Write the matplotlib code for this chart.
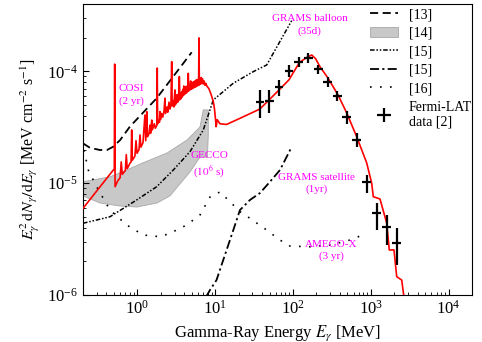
import matplotlib as mpl
import matplotlib.pyplot as plt
from matplotlib.lines import Line2D
from matplotlib.patches import Patch

# dashed [13] (COSI 2 yr)
cosi_E = [0.2, 0.246, 0.33, 0.407, 0.49, 0.60, 0.80, 1.77, 4.99]
cosi_F = [2.27e-5, 2.07e-5, 1.98e-5, 1.98e-5, 2.12e-5, 2.43e-5, 3.2e-5, 5.75e-5, 1.48e-4]

# shaded band [14] (GECCO 1e6 s)
gecco_up_E = [0.2, 0.445, 0.693, 1.18, 2.40, 4.34, 6.38, 7.03]
gecco_up_F = [1.03e-5, 1.14e-5, 1.29e-5, 1.52e-5, 1.86e-5, 2.43e-5, 3.18e-5, 4.52e-5]
gecco_lo_E = [8.15, 8.15, 7.95, 6.38, 4.74, 3.52, 2.62, 1.79, 0.99, 0.597, 0.33, 0.2]
gecco_lo_F = [4.52e-5, 2.7e-5, 1.71e-5, 1.71e-5, 1.26e-5, 9.84e-6, 7.69e-6, 6.65e-6,
              6.12e-6, 6.25e-6, 6.65e-6, 7.69e-6]

# dash-dot-dot [15] (GRAMS balloon 35 d)
balloon_E = [0.2, 0.445, 0.98, 1.77, 2.89, 4.74, 7.03, 9.46, 17.1, 30.9, 45.9, 96.2]
balloon_F = [4.38e-6, 5.01e-6, 7.08e-6, 9.3e-6, 1.31e-5, 1.91e-5, 2.99e-5, 5.55e-5,
             7.83e-5, 9.94e-5, 1.14e-4, 2.84e-4]

# dash-dot [15] (GRAMS satellite 1 yr)
satellite_E = [7.62, 8.58, 10.4, 12.7, 17.1, 20.8, 28.0, 37.7, 50.6, 68.0, 96.2]
satellite_F = [9.6e-7, 1.11e-6, 1.36e-6, 2.06e-6, 3.81e-6, 5.75e-6, 7.08e-6, 8.17e-6,
               1.03e-5, 1.31e-5, 2.11e-5]

# dotted [16] (AMEGO-X 3 yr)
amego_E = [0.206, 0.234, 0.30, 0.445, 0.728, 1.19, 1.95, 2.62, 4.30, 6.38, 8.58, 11.5,
           14.7, 20.8, 28.0, 45.9, 68.0, 91.5, 165, 299, 541, 886]
amego_F = [1.98e-5, 1.31e-5, 9.25e-6, 5.75e-6, 4.23e-6, 3.44e-6, 3.32e-6, 3.56e-6,
           4.23e-6, 5.2e-6, 7.53e-6, 8.34e-6, 7.08e-6, 5.56e-6, 4.85e-6, 3.81e-6,
           3.1e-6, 2.74e-6, 2.7e-6, 2.8e-6, 3.1e-6, 3.56e-6]

# red spectrum with lines, (energy MeV, flux)
red_points = [
    (0.20, 5.96e-6), (0.49, 1.31e-5), (0.505, 1.33e-5), (0.511, 1.16e-4), (0.517, 9.3e-6),
    (0.56, 1.05e-5), (0.60, 1.12e-5), (0.62, 1.55e-5), (0.64, 1.2e-5), (0.70, 1.3e-5),
    (0.72, 1.8e-5), (0.74, 1.35e-5), (0.80, 1.5e-5), (0.83, 1.55e-5), (0.845, 2.99e-5),
    (0.86, 1.6e-5), (0.93, 1.75e-5), (0.96, 2.4e-5), (0.99, 1.85e-5), (1.05, 2.0e-5),
    (1.08, 2.7e-5), (1.11, 2.1e-5), (1.18, 2.3e-5), (1.25, 4.07e-5), (1.28, 2.4e-5),
    (1.32, 4.36e-5), (1.35, 2.6e-5), (1.42, 2.8e-5), (1.45, 3.3e-5), (1.48, 2.8e-5),
    (1.53, 3.67e-5), (1.56, 3.0e-5), (1.65, 3.4e-5), (1.70, 3.1e-5), (1.78, 3.3e-5),
    (1.80, 1.07e-4), (1.82, 3.4e-5), (1.88, 3.7e-5), (1.92, 3.5e-5), (1.95, 4.36e-5),
    (1.98, 3.7e-5), (2.05, 4.2e-5), (2.12, 3.9e-5), (2.20, 4.4e-5), (2.26, 5.75e-5),
    (2.30, 4.2e-5), (2.40, 4.8e-5), (2.45, 4.3e-5), (2.55, 5.3e-5), (2.62, 4.6e-5),
    (2.70, 5.0e-5), (2.76, 1.22e-4), (2.80, 4.9e-5), (2.90, 5.4e-5), (2.95, 4.8e-5),
    (2.98, 5.6e-5), (3.04, 6.82e-5), (3.08, 5.0e-5), (3.12, 5.8e-5), (3.18, 5.2e-5),
    (3.25, 6.2e-5), (3.30, 5.3e-5), (3.35, 6.0e-5), (3.40, 5.5e-5), (3.46, 8.97e-5),
    (3.52, 5.6e-5), (3.58, 6.4e-5), (3.65, 5.7e-5), (3.72, 6.6e-5), (3.78, 5.9e-5),
    (3.85, 6.9e-5), (3.90, 6.1e-5), (3.95, 7.4e-5), (4.00, 6.2e-5), (4.06, 7.0e-5),
    (4.12, 6.3e-5), (4.20, 7.3e-5), (4.28, 6.4e-5), (4.36, 7.4e-5), (4.44, 6.6e-5),
    (4.51, 9.6e-5), (4.58, 6.7e-5), (4.65, 7.6e-5), (4.72, 6.8e-5), (4.84, 8.2e-5),
    (4.92, 6.9e-5), (5.00, 7.8e-5), (5.08, 7.0e-5), (5.18, 8.0e-5), (5.28, 7.1e-5),
    (5.38, 8.1e-5), (5.48, 7.2e-5), (5.58, 8.3e-5), (5.68, 7.3e-5), (5.80, 8.4e-5),
    (5.92, 7.4e-5), (6.05, 8.5e-5), (6.12, 7.5e-5), (6.19, 1.99e-4), (6.26, 7.6e-5),
    (6.38, 8.6e-5), (6.50, 7.7e-5), (6.62, 8.8e-5), (6.70, 7.8e-5), (6.85, 8.6e-5),
    (7.00, 7.7e-5), (7.20, 8.2e-5), (7.40, 7.5e-5), (7.60, 7.8e-5), (7.80, 7.4e-5),
    (8.30, 7.0e-5), (8.80, 6.3e-5), (9.46, 5.36e-5), (9.80, 4.6e-5), (10.0, 4.0e-5),
    (10.3, 3.2e-5), (10.6, 3.7e-5), (11.5, 3.4e-5), (14.0, 3.35e-5), (20.8, 3.8e-5),
    (37.5, 4.6e-5), (66, 6.8e-5), (88.8, 8.4e-5), (121, 1.2e-4), (150, 1.33e-4),
    (174, 1.40e-4), (195, 1.3e-4), (222, 1.10e-4), (282, 8.7e-5), (379, 6.15e-5),
    (490, 4.25e-5), (659, 2.6e-5), (885, 1.52e-5), (1027, 1.0e-5), (1077, 7.57e-6),
    (1313, 7.22e-6), (1600, 4.41e-6), (1728, 2.53e-6), (1987, 2.53e-6), (2153, 1.46e-6),
    (2497, 1.36e-6), (2700, 9e-7),
]
red_E = [p[0] for p in red_points]
red_F = [p[1] for p in red_points]

# Fermi-LAT data [2]
fermi_E = [37.7, 49.6, 66, 88.8, 118, 157, 211, 279, 371, 490, 659, 885, 1190, 1600, 2152]
fermi_F = [5.36e-5, 5.47e-5, 7.2e-5, 1.01e-4, 1.22e-4, 1.31e-4, 1.04e-4, 7.99e-5,
           6.03e-5, 3.88e-5, 2.43e-5, 1.02e-5, 5.38e-6, 4.08e-6, 2.9e-6]
fermi_hi = [6.8e-5, 6.8e-5, 8.4e-5, 1.14e-4, 1.35e-4, 1.45e-4, 1.15e-4, 8.9e-5,
            6.7e-5, 4.4e-5, 2.8e-5, 1.18e-5, 6.65e-6, 5.2e-6, 3.97e-6]
fermi_lo = [3.83e-5, 4.24e-5, 6.0e-5, 8.9e-5, 1.1e-4, 1.18e-4, 9.4e-5, 7.2e-5,
            5.4e-5, 3.4e-5, 2.1e-5, 8.2e-6, 3.81e-6, 2.8e-6, 1.85e-6]
fermi_bin = 1.14  # half bin width factor

labels = [
    ("COSI\n(2 yr)", 0.83, 6.15e-5),
    ("GRAMS balloon\n(35d)", 165, 2.6e-4),
    ("GECCO\n($10^6$ s)", 8.36, 1.43e-5),
    ("GRAMS satellite\n(1yr)", 203, 9.85e-6),
    ("AMEGO-X\n(3 yr)", 308, 2.48e-6),
]

mpl.rcParams.update({
    "font.family": ["Liberation Serif", "DejaVu Serif"],
    "mathtext.fontset": "stix",
    "font.size": 11,
})

fig = plt.figure(figsize=(4.82, 3.42), dpi=100)
ax = fig.add_axes([0.1722, 0.1374, 0.8071, 0.8509])

dash13 = (0, (4.5, 2.5))
dash15a = (0, (3, 1.2, 1, 1.2, 1, 1.2))
dash15b = (0, (5, 1.8, 1.2, 1.8))
dot16 = (0, (1, 5))

ax.fill(gecco_up_E + gecco_lo_E, gecco_up_F + gecco_lo_F, facecolor="#c8c8c8",
        edgecolor="#a8a8a8", linewidth=0.6, zorder=1)
ax.plot(cosi_E, cosi_F, color="black", lw=1.3, ls=dash13, zorder=2)
ax.plot(balloon_E, balloon_F, color="black", lw=1.1, ls=dash15a, zorder=2)
ax.plot(satellite_E, satellite_F, color="black", lw=1.3, ls=dash15b, zorder=2)
ax.plot(amego_E, amego_F, color="black", lw=1.2, ls=dot16, zorder=2)
ax.plot(red_E, red_F, color="#ff0000", lw=1.2, zorder=3)

xerr = [[e - e / fermi_bin for e in fermi_E], [e * fermi_bin - e for e in fermi_E]]
yerr = [[f - lo for f, lo in zip(fermi_F, fermi_lo)],
        [hi - f for f, hi in zip(fermi_F, fermi_hi)]]
ax.errorbar(fermi_E, fermi_F, xerr=xerr, yerr=yerr, fmt="none", ecolor="black",
            elinewidth=1.6, capsize=0, zorder=4)

for text, x, y in labels:
    ax.text(x, y, text, color="#ff00ff", fontsize=8, ha="center", va="center",
            linespacing=1.35, zorder=5)

ax.set_xscale("log")
ax.set_yscale("log")
ax.set_xlim(0.2, 2e4)
ax.set_ylim(1e-6, 4e-4)
ax.tick_params(which="both", direction="in", top=False, right=False, labelsize=12)
ax.tick_params(which="major", length=4)
ax.tick_params(which="minor", length=2.5)
ax.set_xlabel(r"Gamma-Ray Energy $E_\gamma$ [MeV]", fontsize=12)
ax.set_ylabel(r"$E_\gamma^2\,\mathrm{d}N_\gamma/\mathrm{d}E_\gamma$ [MeV cm$^{-2}$ s$^{-1}$]",
              fontsize=11.5)

handles = [
    Line2D([], [], color="black", lw=1.3, ls=dash13),
    Patch(facecolor="#c8c8c8", edgecolor="#a8a8a8", linewidth=0.6),
    Line2D([], [], color="black", lw=1.1, ls=dash15a),
    Line2D([], [], color="black", lw=1.3, ls=dash15b),
    Line2D([], [], color="black", lw=1.2, ls=dot16),
    Line2D([], [], color="black", marker="+", ms=10, mew=1.6, ls="none"),
]
ax.legend(handles, ["[13]", "[14]", "[15]", "[15]", "[16]", "Fermi-LAT\ndata [2]"],
          loc="upper left", bbox_to_anchor=(0.723, 1.005), frameon=False, fontsize=10,
          handlelength=2.0, labelspacing=0.4, handletextpad=0.8, borderaxespad=0)

fig.savefig("out.png", dpi=100)
